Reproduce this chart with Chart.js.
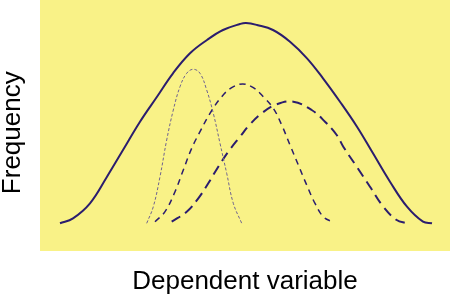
<!DOCTYPE html>
<html>
<head>
<meta charset="utf-8">
<script src="https://cdn.jsdelivr.net/npm/chart.js@4/dist/chart.umd.min.js"></script>
<style>
  body { margin: 0; background: #fff; }
</style>
</head>
<body>
<canvas id="grafico" width="450" height="295"></canvas>
<script>
// curvas (x = variable dependiente, y = frecuencia)
const totalX = [20, 33, 50, 67, 83, 100, 117, 133, 150, 167, 183, 200, 206, 217, 233, 250, 267, 283, 300, 317, 333, 350, 367, 383, 392];
const totalY = [27.7, 32.7, 47.7, 74.3, 101, 129.3, 154.3, 177.7, 197.7, 211, 221, 227, 228, 226, 221, 209.3, 192.7, 172.7, 149.3, 124.3, 97.7, 69.3, 44.3, 29.3, 27.7];

const punteadaX = [106.7, 113.3, 120, 126.7, 133.3, 140, 146.7, 153.3, 160, 166.7, 173.3, 180, 186.7, 193.3, 201.7];
const punteadaY = [27.7, 44.3, 74.3, 111, 141, 164.3, 177.7, 181.7, 177.7, 161, 137.7, 107.7, 77.7, 47.7, 27.7];

const cortaX = [115, 125, 135, 143.3, 151.7, 160, 170, 181.7, 191.7, 202.7, 213.3, 223.3, 233.3, 241.7, 250, 258.3, 266.7, 275, 283.3, 293.3];
const cortaY = [29.3, 39.3, 59.3, 81, 102.7, 119.3, 137.7, 154.3, 163.3, 167, 163.3, 154.3, 142.7, 126, 106, 86, 66, 47.7, 34.3, 28.7];

const largaX = [131.7, 146.7, 158.3, 168.3, 178.3, 188.3, 200, 210, 221.7, 236.7, 253.3, 271.7, 285, 296.7, 303.3, 316.7, 330, 343.3, 356.7, 366.7];
const largaY = [29.3, 39.3, 52.7, 67.7, 84.3, 99.3, 114.3, 126.7, 137.7, 146.7, 149.3, 141, 129.3, 116, 104.3, 84.3, 64.3, 44.3, 31, 27.7];

const rangoX = [0, 410];
const rangoY = [0, 251];

const tituloX = 'Dependent variable';
const tituloY = 'Frequency\u00a0\u00a0';

function puntos(xs, ys) {
  return xs.map(function (x, i) { return { x: x, y: ys[i] }; });
}

const fondoPanel = {
  id: 'fondoPanel',
  beforeDraw: function (chart) {
    const a = chart.chartArea;
    const ctx = chart.ctx;
    ctx.save();
    ctx.fillStyle = '#f9f287';
    ctx.fillRect(a.left, a.top, a.right - a.left, a.bottom - a.top);
    ctx.restore();
  }
};

const fuente = { family: '"Liberation Sans", Arial, sans-serif', size: 26, lineHeight: 1 };
const azul = '#2b1d6e';

new Chart(document.getElementById('grafico'), {
  type: 'line',
  data: {
    datasets: [
      { data: puntos(totalX, totalY), borderColor: azul, borderWidth: 2 },
      { data: puntos(punteadaX, punteadaY), borderColor: '#6f6390', borderWidth: 1, borderDash: [3, 2] },
      { data: puntos(cortaX, cortaY), borderColor: azul, borderWidth: 1.5, borderDash: [6, 5] },
      { data: puntos(largaX, largaY), borderColor: azul, borderWidth: 2, borderDash: [10, 6] }
    ]
  },
  options: {
    responsive: false,
    animation: false,
    devicePixelRatio: 1,
    layout: { padding: 0 },
    elements: {
      point: { radius: 0 },
      line: { tension: 0.4, fill: false, capBezierPoints: true }
    },
    plugins: { legend: { display: false }, tooltip: { enabled: false } },
    scales: {
      x: {
        type: 'linear', min: rangoX[0], max: rangoX[1],
        ticks: { display: false },
        grid: { display: false, drawTicks: false },
        border: { display: false },
        title: { display: true, text: tituloX, color: '#000', font: fuente, padding: { top: 18, bottom: 0 } }
      },
      y: {
        type: 'linear', min: rangoY[0], max: rangoY[1],
        ticks: { display: false },
        grid: { display: false, drawTicks: false },
        border: { display: false },
        title: { display: true, text: tituloY, color: '#000', font: fuente, padding: { top: 0, bottom: 14 } }
      }
    }
  },
  plugins: [fondoPanel]
});
</script>
</body>
</html>
